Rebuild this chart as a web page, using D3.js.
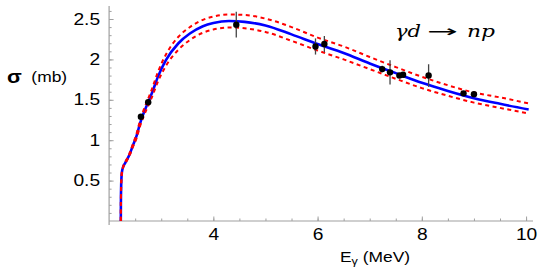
<!DOCTYPE html>
<html>
<head>
  <meta charset="utf-8">
  <title>gamma d -> n p</title>
  <script src="https://d3js.org/d3.v7.min.js"></script>
  <style>
    body { margin: 0; background: #fff; }
  </style>
</head>
<body>
  <script>
  // photon energy grid (MeV) for the theory curves
  var curveE = [2.2246, 2.226, 2.232, 2.245, 2.27, 2.31, 2.39, 2.46, 2.53, 2.59, 2.66,
    2.75, 2.82, 2.94, 3.09, 3.33, 3.55, 3.8, 4.0, 4.3, 4.6, 5.0, 5.5, 6.0, 6.5, 7.0,
    7.5, 8.0, 8.5, 9.0, 9.5, 10.05];
  // central curve (blue)
  var sigmaMid = [0, 0.2, 0.45, 0.6, 0.67, 0.72, 0.82, 0.94, 1.06, 1.20, 1.33,
    1.47, 1.58, 1.79, 1.99, 2.20, 2.32, 2.41, 2.45, 2.475, 2.465, 2.42, 2.31, 2.19, 2.08, 1.95,
    1.83, 1.71, 1.61, 1.52, 1.45, 1.38];
  // upper / lower band (red dashed)
  var sigmaUp = [0, 0.2, 0.45, 0.6, 0.675, 0.73, 0.835, 0.96, 1.09, 1.235, 1.37,
    1.515, 1.63, 1.85, 2.06, 2.28, 2.40, 2.49, 2.53, 2.555, 2.55, 2.505, 2.40, 2.27, 2.16, 2.03,
    1.905, 1.785, 1.68, 1.59, 1.53, 1.455];
  var sigmaLow = [0, 0.2, 0.45, 0.6, 0.665, 0.71, 0.805, 0.92, 1.03, 1.165, 1.29,
    1.425, 1.53, 1.73, 1.92, 2.12, 2.24, 2.33, 2.37, 2.395, 2.385, 2.34, 2.23, 2.11, 2.00, 1.88,
    1.76, 1.645, 1.55, 1.465, 1.40, 1.33];

  // measured points
  var dataE   = [2.61, 2.75, 4.44, 5.96, 6.13, 7.24, 7.39, 7.57, 7.64, 8.13, 8.80, 9.00];
  var dataS   = [1.29, 1.47, 2.43, 2.16, 2.19, 1.88, 1.84, 1.80, 1.81, 1.80, 1.58, 1.57];
  var dataErr = [0.03, 0.03, 0.16, 0.10, 0.10, 0.04, 0.15, 0.03, 0.03, 0.14, 0.02, 0.02];

  var xTicks = [4, 6, 8, 10];
  var yTicks = [0.5, 1, 1.5, 2, 2.5];

  var width = 545, height = 273;
  var svg = d3.select('body').append('svg')
    .attr('width', width)
    .attr('height', height);

  var x = d3.scaleLinear().domain([2, 10.133]).range([109.1, 533]);
  var y = d3.scaleLinear().domain([0, 2.661]).range([221, 6]);

  var axisColor = '#a0a0a0';
  var font = '"Liberation Sans", Arial, sans-serif';

  // axis lines
  svg.append('line')
    .attr('x1', x(2)).attr('x2', x(10.133))
    .attr('y1', y(0)).attr('y2', y(0))
    .attr('stroke', axisColor).attr('stroke-width', 1.2);
  svg.append('line')
    .attr('x1', x(2)).attr('x2', x(2))
    .attr('y1', y(2.661)).attr('y2', y(0) + 4)
    .attr('stroke', axisColor).attr('stroke-width', 1.2);

  // minor ticks
  var xMinor = svg.append('g').attr('transform', 'translate(0,' + y(0) + ')')
    .call(d3.axisBottom(x).tickValues(d3.range(2.5, 10.01, 0.5)).tickSize(-2.5).tickFormat(''));
  var yMinor = svg.append('g').attr('transform', 'translate(' + x(2) + ',0)')
    .call(d3.axisLeft(y).tickValues(d3.range(1, 27).map(d => d / 10)).tickSize(-2.5).tickFormat(''));

  // major ticks + labels
  var xAxis = svg.append('g').attr('transform', 'translate(0,' + y(0) + ')')
    .call(d3.axisBottom(x).tickValues(xTicks).tickSize(-4.5).tickPadding(8).tickFormat(d3.format('d')));
  var yAxis = svg.append('g').attr('transform', 'translate(' + x(2) + ',0)')
    .call(d3.axisLeft(y).tickValues(yTicks).tickSize(-4.5).tickPadding(7.5).tickFormat(d => String(d)));

  [xMinor, yMinor, xAxis, yAxis].forEach(function(g) {
    g.select('.domain').remove();
    g.selectAll('.tick line').attr('stroke', axisColor).attr('stroke-width', 1);
    g.selectAll('.tick text')
      .attr('fill', '#000')
      .style('font-family', font)
      .style('font-size', '16px')
      .attr('transform', 'scale(1.2,1)');
  });

  // curves
  var line = d3.line()
    .x(d => x(d[0]))
    .y(d => y(d[1]))
    .curve(d3.curveMonotoneX);

  svg.append('path')
    .attr('d', line(d3.zip(curveE, sigmaMid)))
    .attr('fill', 'none')
    .attr('stroke', '#0000ff')
    .attr('stroke-width', 2.6);

  [sigmaUp, sigmaLow].forEach(function(s) {
    svg.append('path')
      .attr('d', line(d3.zip(curveE, s)))
      .attr('fill', 'none')
      .attr('stroke', '#ff0000')
      .attr('stroke-width', 2)
      .attr('stroke-dasharray', '4,3.5');
  });

  // data points with error bars
  var pts = svg.append('g').selectAll('g')
    .data(d3.zip(dataE, dataS, dataErr))
    .enter().append('g');

  pts.append('line')
    .attr('x1', d => x(d[0])).attr('x2', d => x(d[0]))
    .attr('y1', d => y(d[1] - d[2])).attr('y2', d => y(d[1] + d[2]))
    .attr('stroke', '#444').attr('stroke-width', 1.3);

  pts.append('circle')
    .attr('cx', d => x(d[0]))
    .attr('cy', d => y(d[1]))
    .attr('r', 3.2)
    .attr('fill', '#000');

  // axis titles
  var yLab = svg.append('text')
    .attr('transform', 'translate(7,83) scale(1.2,1)')
    .style('font-family', font)
    .attr('fill', '#000');
  yLab.append('tspan').attr('font-size', 18).attr('font-weight', 'bold').text('σ');
  yLab.append('tspan').attr('x', 20.3).attr('dy', -1.5).attr('font-size', 14.5).text('(mb)');

  var xLab = svg.append('text')
    .attr('transform', 'translate(340,261.7) scale(1.2,1)')
    .style('font-family', font)
    .attr('font-size', 14.5)
    .attr('fill', '#000');
  xLab.append('tspan').text('E');
  xLab.append('tspan').attr('font-size', 10.5).attr('dy', 3).text('γ');
  xLab.append('tspan').attr('dy', -3).text(' (MeV)');

  // reaction label
  var serif = '"DejaVu Serif", "Liberation Serif", serif';
  svg.append('text')
    .attr('x', 395).attr('y', 36.7)
    .style('font-family', serif).style('font-style', 'italic')
    .attr('font-size', 16)
    .attr('textLength', 26).attr('lengthAdjust', 'spacingAndGlyphs')
    .text('γd');
  svg.append('text')
    .attr('x', 427).attr('y', 36.7)
    .style('font-family', '"DejaVu Sans", sans-serif')
    .attr('font-size', 16)
    .attr('textLength', 31).attr('lengthAdjust', 'spacingAndGlyphs')
    .text('→');
  svg.append('text')
    .attr('x', 467).attr('y', 36.7)
    .style('font-family', serif).style('font-style', 'italic')
    .attr('font-size', 16)
    .attr('textLength', 28).attr('lengthAdjust', 'spacingAndGlyphs')
    .text('np');
  </script>
</body>
</html>
